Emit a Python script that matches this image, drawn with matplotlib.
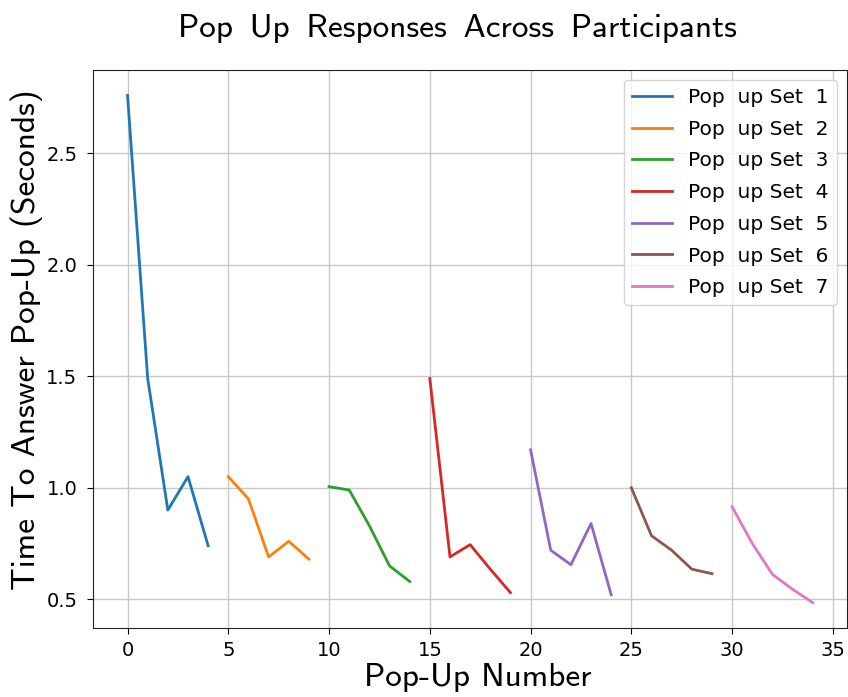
import matplotlib
matplotlib.use("Agg")
import matplotlib.pyplot as plt

# response times per pop-up set (5 pop-ups each)
set_labels = ["Pop  up Set  %d" % i for i in range(1, 8)]
set1 = [2.76, 1.49, 0.90, 1.05, 0.74]
set2 = [1.05, 0.95, 0.69, 0.76, 0.68]
set3 = [1.005, 0.99, 0.83, 0.65, 0.58]
set4 = [1.49, 0.69, 0.745, 0.635, 0.53]
set5 = [1.17, 0.72, 0.655, 0.84, 0.52]
set6 = [1.00, 0.785, 0.72, 0.635, 0.615]
set7 = [0.915, 0.75, 0.612, 0.545, 0.485]
sets = [set1, set2, set3, set4, set5, set6, set7]

fig, ax = plt.subplots(figsize=(8.48, 6.97), dpi=100)
fig.subplots_adjust(left=0.110, right=0.9988, top=0.8996, bottom=0.099)

for i, vals in enumerate(sets):
    xs = list(range(i * 5, i * 5 + len(vals)))
    ax.plot(xs, vals, linewidth=2, label=set_labels[i])

ax.grid(True, color="#c8c8c8", linewidth=1)
ax.set_axisbelow(True)
ax.tick_params(labelsize=14, length=4.5)
ax.tick_params(axis="y", pad=7)
ax.tick_params(axis="x", pad=5)
for s in ax.spines.values():
    s.set_color("#222222")

# word gaps are a bit wider in the original, en space from DejaVu
fam = ["cmss10", "DejaVu Sans"]
ax.set_title("Pop\u2002Up\u2002Responses\u2002Across\u2002Participants", family=fam,
             fontsize=24, pad=24, x=0.483)
ax.set_xlabel("Pop-Up Number", family=fam, fontsize=24, labelpad=2, x=0.51)
ax.set_ylabel("Time To Answer Pop-Up (Seconds)", family=fam, fontsize=24, labelpad=2, y=0.517)
ax.legend(loc="upper right", fontsize=14.5, labelspacing=0.63)

fig.savefig("out.png", dpi=100)
